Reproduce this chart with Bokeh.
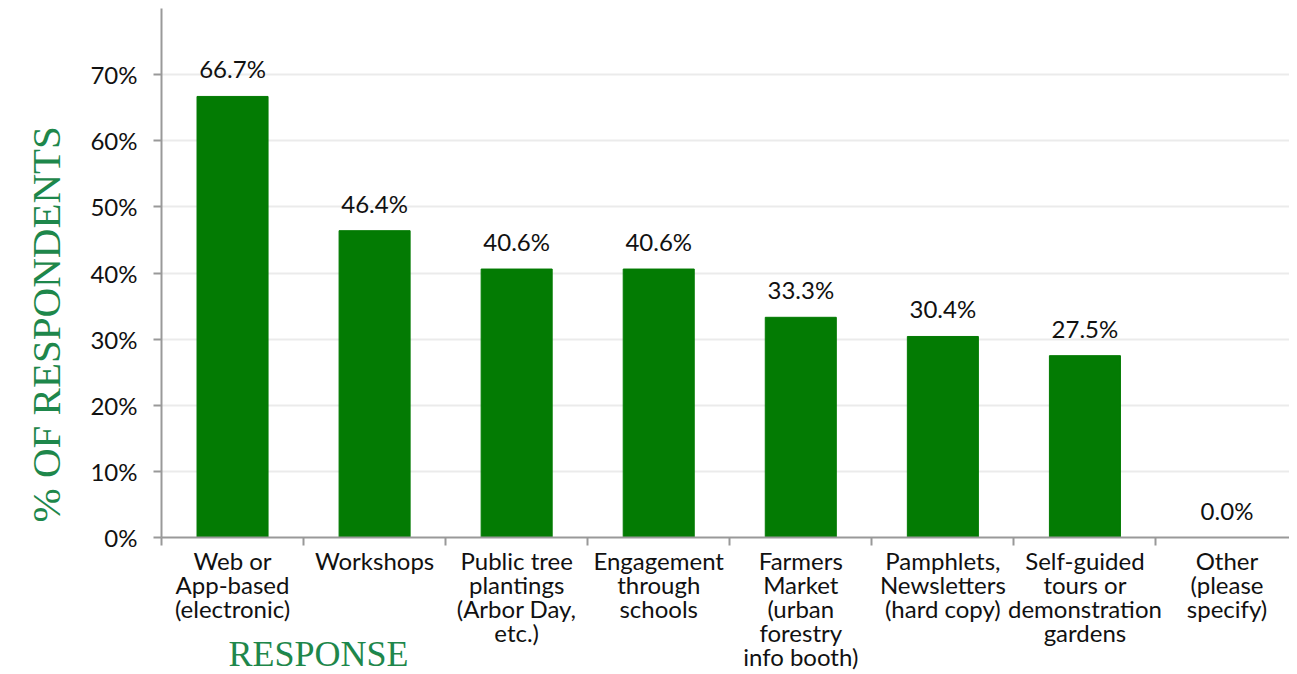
from bokeh.plotting import figure
from bokeh.models import ColumnDataSource, FixedTicker, Range1d, Title, Label
from bokeh.core.properties import value
from bokeh.embed import file_html
from bokeh.resources import INLINE

categories = [
    "Web or\nApp-based\n(electronic)",
    "Workshops",
    "Public tree\nplantings\n(Arbor Day,\netc.)",
    "Engagement\nthrough\nschools",
    "Farmers\nMarket\n(urban\nforestry\ninfo booth)",
    "Pamphlets,\nNewsletters\n(hard copy)",
    "Self-guided\ntours or\ndemonstration\ngardens",
    "Other\n(please\nspecify)",
]
percent = [66.7, 46.4, 40.6, 40.6, 33.3, 30.4, 27.5, 0.0]
y_ticks = [0, 10, 20, 30, 40, 50, 60, 70]
y_tick_labels = ["0%", "10%", "20%", "30%", "40%", "50%", "60%", "70%"]

xs = [i + 0.5 for i in range(len(categories))]
src = ColumnDataSource(dict(
    x=xs, top=percent,
    lab=[f"{v:.1f}%" for v in percent],
))

p = figure(frame_width=1128, frame_height=529, output_backend="svg", toolbar_location=None,
           x_range=Range1d(0, 7.94), y_range=Range1d(0, 80),
           min_border_left=161, min_border_top=8, min_border_right=0, min_border_bottom=0)
p.outline_line_color = None

p.vbar(x="x", top="top", width=0.5, source=src, color="#037b03")
p.text(x="x", y="top", text="lab", source=src, y_offset=-13,
       text_align="center", text_baseline="bottom",
       text_font=value("Lato"), text_font_size="24px", text_color="#111111")

# y axis
p.yaxis.ticker = FixedTicker(ticks=y_ticks, minor_ticks=[])
p.yaxis.major_label_overrides = {t: l for t, l in zip(y_ticks, y_tick_labels)}
p.yaxis.major_label_text_font = "Lato"
p.yaxis.major_label_text_font_size = "24px"
p.yaxis.major_label_text_color = "#111111"
p.yaxis.axis_line_color = "#999999"
p.yaxis.axis_line_width = 2
p.yaxis.major_tick_line_color = "#999999"
p.yaxis.major_tick_line_width = 2
p.yaxis.major_tick_out = 8
p.yaxis.major_tick_in = 0
p.yaxis.minor_tick_line_color = None
p.yaxis.major_label_standoff = 16

# x axis: labels at centres, tick marks at boundaries
p.xaxis.ticker = FixedTicker(ticks=xs, minor_ticks=list(range(len(categories) + 1)))
p.xaxis.major_label_overrides = {x: c for x, c in zip(xs, categories)}
p.xaxis.major_label_text_font = "Lato"
p.xaxis.major_label_text_font_size = "24px"
p.xaxis.major_label_text_color = "#111111"
p.xaxis.major_label_text_line_height = 0.83
p.xaxis.axis_line_color = "#999999"
p.xaxis.axis_line_width = 2
p.xaxis.major_tick_line_color = None
p.xaxis.minor_tick_line_color = "#999999"
p.xaxis.minor_tick_line_width = 2
p.xaxis.minor_tick_out = 8
p.xaxis.minor_tick_in = 0
p.xaxis.major_label_standoff = 0

p.xgrid.grid_line_color = None
p.ygrid.grid_line_color = "#ebebeb"
p.ygrid.grid_line_width = 2
p.ygrid.ticker = FixedTicker(ticks=y_ticks)

title_color = "#1e874b"
p.add_layout(Title(text="% OF RESPONDENTS", align="left", offset=15, standoff=37,
                   text_font="Liberation Serif", text_font_size="41px",
                   text_font_style="normal", text_color=title_color), "left")
p.add_layout(Label(x=0.472, y=-17.6,
                   text="RESPONSE", text_align="left", text_baseline="alphabetic",
                   text_font="Liberation Serif", text_font_size="36px",
                   text_color=title_color), "below")

open("out.html", "w").write(file_html(p, INLINE))
